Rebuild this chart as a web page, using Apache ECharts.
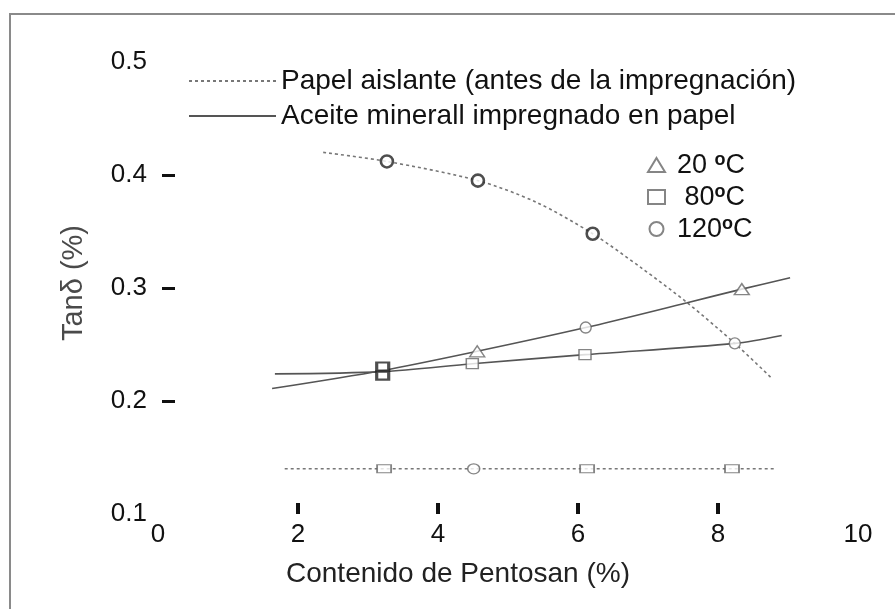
<!DOCTYPE html>
<html><head><meta charset="utf-8">
<script src="https://cdn.jsdelivr.net/npm/echarts@6/dist/echarts.min.js"></script>
<style>html,body{margin:0;padding:0;background:#fff}#c{width:895px;height:609px}</style>
</head><body><div id="c"></div>
<script>
// Tick labels / tick marks
const xLabels = [0, 2, 4, 6, 8, 10];
const xTickMarks = [2, 4, 6, 8];
const yLabels = [0.1, 0.2, 0.3, 0.4, 0.5];
const yTickMarks = [0.2, 0.3, 0.4];

// Curves [Pentosan %, Tan delta %]
const papelCurve = [[2.36, 0.420], [3.27, 0.412], [4.57, 0.395], [5.40, 0.376], [6.21, 0.348], [6.90, 0.318], [7.56, 0.287], [8.24, 0.251], [8.77, 0.220]];
const papelFlat = [[1.81, 0.140], [3.23, 0.140], [4.51, 0.140], [6.13, 0.140], [8.20, 0.140], [8.81, 0.140]];
const aceiteUpper = [[1.63, 0.211], [3.21, 0.227], [4.56, 0.244], [6.11, 0.265], [7.56, 0.287], [8.34, 0.299], [9.03, 0.309]];
const aceiteLower = [[1.67, 0.224], [3.21, 0.226], [4.49, 0.233], [6.10, 0.241], [8.24, 0.251], [8.91, 0.258]];

// Markers
const tri20 = [[4.56, 0.244], [8.34, 0.299]];
const sq80 = [[4.49, 0.233], [6.10, 0.241]];
const sq80flat = [[3.23, 0.140], [6.13, 0.140], [8.20, 0.140]];
const circ120 = [[6.11, 0.265], [8.24, 0.251]];
const circ120flat = [[4.51, 0.140]];
const circ120papel = [[3.27, 0.412], [4.57, 0.395], [6.21, 0.348]];
const sq80bold = [[3.21, 0.2305], [3.21, 0.2225]];

const nPapel = 'Papel aislante (antes de la impregnación)';
const nAceite = 'Aceite minerall impregnado en papel';
const tempNames = ['20 ºC', '80ºC', '120ºC'];
const tempFmt = {'20 ºC': '{n|20 }{s|o}{n|C}', '80ºC': '{n| 80}{s|o}{n|C}', '120ºC': '{n|120}{s|o}{n|C}'};

const FONT = '"Liberation Sans", Arial, sans-serif';
const thin = {color: '#fff', borderColor: '#666', borderWidth: 1.4};
const bold = {color: '#fff', borderColor: '#222', borderWidth: 2.6};

const chart = echarts.init(document.getElementById('c'), null, {renderer: 'canvas'});
chart.setOption({
  backgroundColor: '#fff',
  animation: false,
  textStyle: {fontFamily: FONT},
  graphic: [{type: 'rect', shape: {x: 10, y: 14, width: 900, height: 620}, style: {fill: 'none', stroke: '#8a8a8a', lineWidth: 2}, z: 0}],
  grid: {left: 158, right: 37, top: 62, bottom: 95, containLabel: false, outerBoundsMode: 'none'},
  legend: [{
    data: [nPapel, nAceite], orient: 'vertical', left: 188, top: 67, padding: 0,
    itemWidth: 87, itemHeight: 14, itemGap: 7, selectedMode: false,
    itemStyle: {opacity: 0},
    textStyle: {fontSize: 28, color: '#111', fontFamily: FONT}
  }, {
    data: tempNames, orient: 'vertical', left: 647, top: 151, padding: 0,
    itemWidth: 17, itemHeight: 14, itemGap: 4, selectedMode: false,
    formatter: n => tempFmt[n],
    textStyle: {fontSize: 27, color: '#111', fontFamily: FONT, padding: [0, 0, 0, 7],
      rich: {
        n: {fontSize: 27, lineHeight: 28, color: '#111', fontFamily: FONT, verticalAlign: 'bottom'},
        s: {fontSize: 18, lineHeight: 17, fontWeight: 'bold', color: '#111', fontFamily: FONT, verticalAlign: 'top'}
      }}
  }],
  xAxis: {
    type: 'value', min: 0, max: 10, interval: 2,
    axisLine: {show: false}, splitLine: {show: false},
    axisTick: {show: true, inside: true, length: 11, customValues: xTickMarks, lineStyle: {width: 4, color: '#111'}},
    axisLabel: {customValues: xLabels, fontSize: 26, color: '#111', margin: 8, fontFamily: FONT},
    name: 'Contenido de Pentosan (%)', nameLocation: 'middle', nameGap: 46,
    nameTextStyle: {fontSize: 28, color: '#222', padding: [0, 100, 0, 0], fontFamily: FONT}
  },
  yAxis: [{
    type: 'value', min: 0.1, max: 0.5, interval: 0.1,
    axisLine: {show: false}, splitLine: {show: false}, axisTick: {show: false},
    axisLabel: {customValues: yLabels, fontSize: 26, color: '#111', margin: 11, fontFamily: FONT, formatter: v => v.toFixed(1)},
    name: 'Tanδ (%)', nameLocation: 'middle', nameGap: 70,
    nameTextStyle: {fontSize: 29, color: '#4a4a4a', fontFamily: FONT, padding: [0, 0, 0, 10]}
  }, {
    type: 'value', min: 0.1, max: 0.5, interval: 0.1, position: 'left', offset: -17,
    axisLine: {show: false}, splitLine: {show: false}, axisLabel: {show: false},
    axisTick: {show: true, length: 13, customValues: yTickMarks, lineStyle: {width: 3, color: '#111'}}
  }],
  series: [
    {name: nPapel, type: 'line', data: papelCurve, smooth: 0.3, symbol: 'none', itemStyle: {color: '#777'},
      lineStyle: {color: '#777', width: 1.6, type: [3, 3]}, z: 2},
    {name: nPapel, type: 'line', data: papelFlat, symbol: 'none', itemStyle: {color: '#777'},
      lineStyle: {color: '#777', width: 1.6, type: [3, 3]}, z: 2},
    {name: nAceite, type: 'line', data: aceiteUpper, smooth: 0.3, symbol: 'none', itemStyle: {color: '#555'},
      lineStyle: {color: '#555', width: 1.6, type: 'solid'}, z: 2},
    {name: nAceite, type: 'line', data: aceiteLower, smooth: 0.3, symbol: 'none', itemStyle: {color: '#555'},
      lineStyle: {color: '#555', width: 1.6, type: 'solid'}, z: 2},
    {name: '20 ºC', type: 'scatter', data: tri20, symbol: 'triangle', symbolSize: [15, 11], itemStyle: thin, z: 3},
    {name: '80ºC', type: 'scatter', data: sq80, symbol: 'rect', symbolSize: [12, 10], itemStyle: thin, z: 3},
    {name: '80ºC', type: 'scatter', data: sq80flat, symbol: 'rect', symbolSize: [14, 8], itemStyle: thin, z: 3},
    {name: '120ºC', type: 'scatter', data: circ120, symbol: 'circle', symbolSize: 11, itemStyle: thin, z: 3},
    {name: '120ºC', type: 'scatter', data: circ120flat, symbol: 'circle', symbolSize: [12, 10], itemStyle: thin, z: 3},
    {name: '120ºC', type: 'scatter', data: circ120papel, symbol: 'circle', symbolSize: 12, itemStyle: bold, z: 4},
    {name: '80ºC', type: 'scatter', data: sq80bold, symbol: 'rect', symbolSize: [12, 8], itemStyle: bold, z: 4}
  ]
});
</script></body></html>
